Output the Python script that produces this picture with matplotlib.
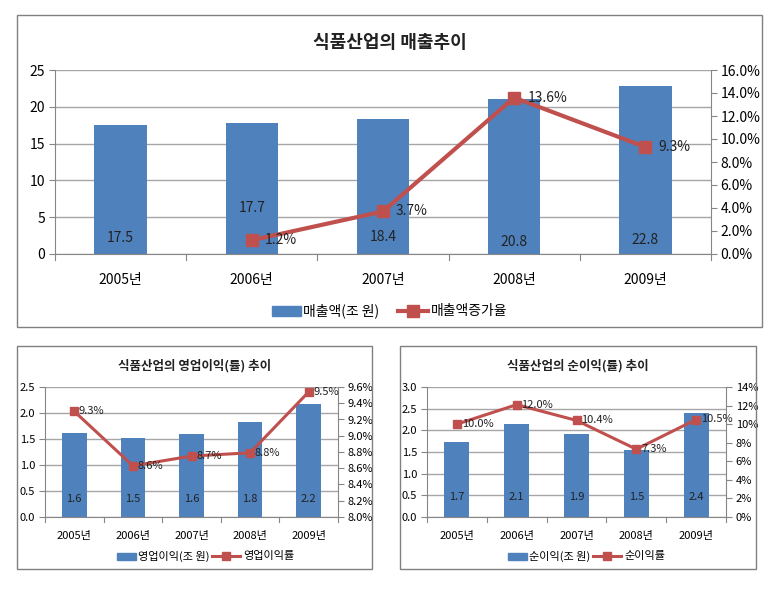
import matplotlib
matplotlib.use("Agg")
import matplotlib.pyplot as plt
from matplotlib.patches import Rectangle
from matplotlib.ticker import FuncFormatter, MultipleLocator
import numpy as np

plt.rcParams['font.family'] = ['Noto Sans CJK KR', 'DejaVu Sans']

years = ["2005년", "2006년", "2007년", "2008년", "2009년"]

# Top chart: sales
sales = [17.5, 17.8, 18.4, 21.0, 22.8]
sales_labels = ["17.5", "17.7", "18.4", "20.8", "22.8"]
sales_label_y = [2.2, 6.2, 2.3, 1.6, 1.9]
growth = [np.nan, 1.2, 3.7, 13.6, 9.3]
growth_labels = ["", "1.2%", "3.7%", "13.6%", "9.3%"]

# Bottom-left: operating profit
op = [1.62, 1.52, 1.60, 1.83, 2.18]
op_labels = ["1.6", "1.5", "1.6", "1.8", "2.2"]
op_rate = [9.30, 8.63, 8.75, 8.79, 9.54]
op_rate_labels = ["9.3%", "8.6%", "8.7%", "8.8%", "9.5%"]

# Bottom-right: net profit
net = [1.74, 2.15, 1.91, 1.54, 2.40]
net_labels = ["1.7", "2.1", "1.9", "1.5", "2.4"]
net_rate = [10.0, 12.1, 10.4, 7.3, 10.5]
net_rate_labels = ["10.0%", "12.0%", "10.4%", "7.3%", "10.5%"]

BAR = "#4F81BD"
LINE = "#C0504D"
GRID = "#A6A6A6"
W, H = 771, 598

fig = plt.figure(figsize=(W / 100, H / 100), dpi=100)


def box(x0, y0, x1, y1):
    fig.patches.append(Rectangle((x0 / W, 1 - y1 / H), (x1 - x0) / W, (y1 - y0) / H,
                                 transform=fig.transFigure, fill=False,
                                 edgecolor="#808080", linewidth=1.0))


def axes_px(x0, y0, x1, y1):
    return fig.add_axes([x0 / W, 1 - y1 / H, (x1 - x0) / W, (y1 - y0) / H])


def style(ax, ax2, fs):
    ax.set_xlim(-0.5, 4.5)
    for s in ["top", "right"]:
        ax.spines[s].set_visible(False)
        ax2.spines[s].set_visible(False)
    ax2.spines["left"].set_visible(False)
    ax2.spines["bottom"].set_visible(False)
    ax.spines["left"].set_color("#868686")
    ax.spines["bottom"].set_color("#868686")
    ax2.spines["right"].set_visible(True)
    ax2.spines["right"].set_color("#868686")
    ax.yaxis.grid(True, color=GRID, linewidth=1.0)
    ax.set_axisbelow(True)
    ax.tick_params(axis="y", length=4, color="#868686", labelsize=fs, pad=3)
    ax2.tick_params(axis="y", length=4, color="#868686", labelsize=fs, pad=3)
    ax.set_xticks(range(5))
    ax.set_xticklabels(years, fontsize=fs)
    ax.tick_params(axis="x", length=0, pad=12)
    for xb in np.arange(-0.5, 5.0, 1.0):
        ax.plot([xb, xb], [0, -0.035], transform=ax.get_xaxis_transform(),
                color="#868686", linewidth=0.8, clip_on=False)


# ---------------- Top chart ----------------
box(17, 15, 762, 327)
fig.text(390 / W, 1 - 42 / H, "식품산업의 매출추이", ha="center", va="center",
         fontsize=13, fontweight="bold", color="#222222")
ax = axes_px(55, 70, 711, 254)
ax2 = ax.twinx()
x = np.arange(5)
ax.bar(x, sales, width=0.4, color=BAR, zorder=2)
ax.set_ylim(0, 25)
ax.yaxis.set_major_locator(MultipleLocator(5))
for i in range(5):
    ax.text(x[i], sales_label_y[i], sales_labels[i], ha="center", va="center",
            fontsize=10, color="#222222", zorder=5)
ax2.plot(x, growth, color=LINE, linewidth=3, marker="s", markersize=8, zorder=3)
ax2.set_ylim(0, 16)
ax2.yaxis.set_major_locator(MultipleLocator(2))
ax2.yaxis.set_major_formatter(FuncFormatter(lambda v, p: f"{v:.1f}%"))
for i in range(1, 5):
    ax2.text(x[i] + 0.1, growth[i], growth_labels[i], ha="left", va="center",
             fontsize=10, color="#222222")
style(ax, ax2, 10)
ax.tick_params(axis="x", pad=14)
# legend
lx, ly = 272, 311
fig.patches.append(Rectangle((lx / W, 1 - (ly + 5) / H), 29 / W, 10 / H,
                             transform=fig.transFigure, color=BAR))
fig.text((lx + 31) / W, 1 - ly / H, "매출액(조 원)", fontsize=10, va="center", ha="left")
fig.lines.append(plt.Line2D([(lx + 126) / W, (lx + 156) / W], [1 - ly / H, 1 - ly / H],
                            transform=fig.transFigure, color=LINE, linewidth=3))
fig.lines.append(plt.Line2D([(lx + 141) / W], [1 - ly / H], transform=fig.transFigure,
                            color=LINE, marker="s", markersize=8, linestyle="none"))
fig.text((lx + 159) / W, 1 - ly / H, "매출액증가율", fontsize=10, va="center", ha="left")


def small_chart(bx0, bx1, ax_x0, ax_x1, title, bars, bar_labels, bar_label_y,
                rate, rate_labels, ylim, yloc, ylim2, yloc2, fmt2, leg1, leg2, leg_x, leg_gap):
    box(bx0, 346, bx1, 569)
    fig.text((bx0 + bx1) / 2 / W, 1 - 366 / H, title, ha="center", va="center",
             fontsize=9, fontweight="bold", color="#222222")
    a = axes_px(ax_x0, 387, ax_x1, 517)
    b = a.twinx()
    xs = np.arange(5)
    a.bar(xs, bars, width=0.42, color=BAR, zorder=2)
    a.set_ylim(*ylim)
    a.yaxis.set_major_locator(MultipleLocator(yloc))
    a.yaxis.set_major_formatter(FuncFormatter(lambda v, p: f"{v:.1f}"))
    for i in range(5):
        a.text(xs[i], bar_label_y, bar_labels[i], ha="center", va="center",
               fontsize=8, color="#222222", zorder=5)
    b.plot(xs, rate, color=LINE, linewidth=2.2, marker="s", markersize=5.5, zorder=3)
    b.set_ylim(*ylim2)
    b.yaxis.set_major_locator(MultipleLocator(yloc2))
    b.yaxis.set_major_formatter(FuncFormatter(fmt2))
    for i in range(5):
        b.text(xs[i] + 0.08, rate[i], rate_labels[i], ha="left", va="center",
               fontsize=8, color="#222222")
    style(a, b, 8)
    a.tick_params(axis="x", pad=10)
    ly2 = 556
    fig.patches.append(Rectangle((leg_x / W, 1 - (ly2 + 3.5) / H), 19 / W, 7 / H,
                                 transform=fig.transFigure, color=BAR))
    fig.text((leg_x + 21) / W, 1 - ly2 / H, leg1, fontsize=8, va="center", ha="left")
    l2 = leg_x + leg_gap
    fig.lines.append(plt.Line2D([l2 / W, (l2 + 28) / W], [1 - ly2 / H, 1 - ly2 / H],
                                transform=fig.transFigure, color=LINE, linewidth=2.2))
    fig.lines.append(plt.Line2D([(l2 + 14) / W], [1 - ly2 / H], transform=fig.transFigure,
                                color=LINE, marker="s", markersize=5.5, linestyle="none"))
    fig.text((l2 + 31) / W, 1 - ly2 / H, leg2, fontsize=8, va="center", ha="left")


small_chart(17, 372, 45, 338, "식품산업의 영업이익(률) 추이", op, op_labels, 0.35,
            op_rate, op_rate_labels, (0, 2.5), 0.5, (8.0, 9.6), 0.2,
            lambda v, p: f"{v:.1f}%", "영업이익(조 원)", "영업이익률", 117, 95)

small_chart(400, 756, 427, 726, "식품산업의 순이익(률) 추이", net, net_labels, 0.45,
            net_rate, net_rate_labels, (0, 3.0), 0.5, (0, 14), 2,
            lambda v, p: f"{v:.0f}%", "순이익(조 원)", "순이익률", 508, 85)

fig.savefig("out.png", dpi=100)
